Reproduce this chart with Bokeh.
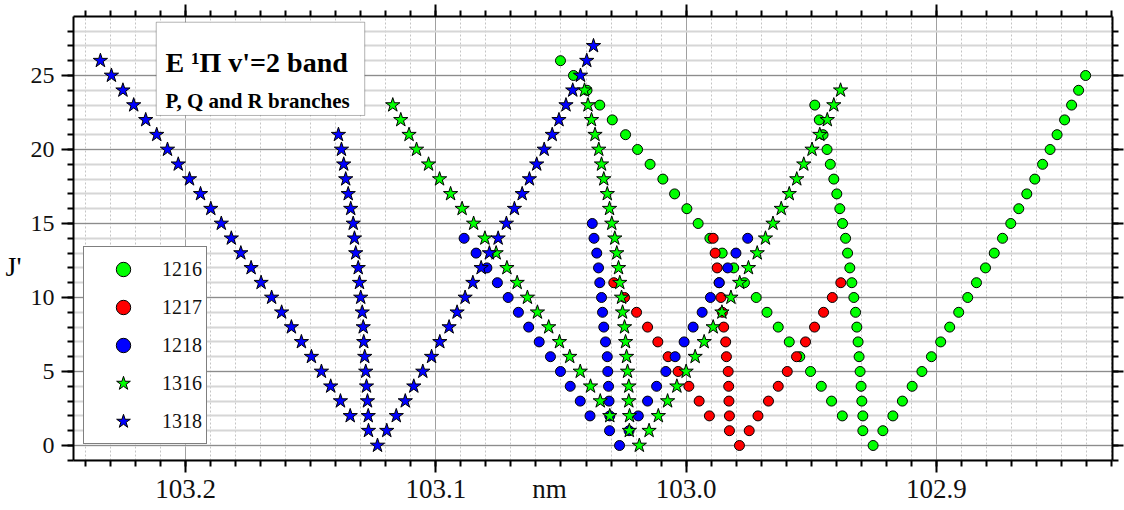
from bokeh.plotting import figure
from bokeh.models import (Range1d, LinearAxis, SingleIntervalTicker, FixedTicker,
                          CustomJSTickFormatter, ColumnDataSource, Legend, LegendItem, Label,
                          BoxAnnotation)
from bokeh.embed import file_html
from bokeh.resources import INLINE

# ---------------- data (wavelength in nm, upper rotational level J') ----------------
# 1216 (green circles)
s1216_P_J = [2, 3, 4, 5, 6, 7, 8, 9, 10, 11, 12, 13, 14, 15, 16, 17, 18, 19, 20, 21, 22, 23, 24, 25, 26]
s1216_P_nm = [102.9376, 102.9419, 102.9460, 102.9503, 102.9546, 102.9588, 102.9632, 102.9677, 102.9720,
              102.9767, 102.9810, 102.9856, 102.9905, 102.9952, 102.9997, 103.0046, 103.0093, 103.0144,
              103.0194, 103.0242, 103.0295, 103.0345, 103.0396, 103.0450, 103.0502]
s1216_Q_J = [1, 2, 3, 4, 5, 6, 7, 8, 9, 10, 11, 12, 13, 14, 15, 16, 17, 18, 19, 20, 21, 22, 23]
s1216_Q_nm = [102.9294, 102.9294, 102.9298, 102.9301, 102.9305, 102.9309, 102.9313, 102.9318, 102.9323,
              102.9330, 102.9338, 102.9346, 102.9355, 102.9363, 102.9375, 102.9386, 102.9398, 102.9410,
              102.9424, 102.9437, 102.9453, 102.9468, 102.9486]
s1216_R_J = [0, 1, 2, 3, 4, 5, 6, 7, 8, 9, 10, 11, 12, 13, 14, 15, 16, 17, 18, 19, 20, 21, 22, 23, 24, 25]
s1216_R_nm = [102.9253, 102.9214, 102.9174, 102.9136, 102.9097, 102.9058, 102.9020, 102.8983, 102.8947,
              102.8911, 102.8875, 102.8840, 102.8804, 102.8769, 102.8736, 102.8703, 102.8671, 102.8639,
              102.8607, 102.8576, 102.8546, 102.8518, 102.8488, 102.8460, 102.8432, 102.8404]

# 1217 (red circles)
s1217_P_J = [2, 3, 4, 5, 6, 7, 8, 9, 10, 11]
s1217_P_nm = [102.9907, 102.9948, 102.9989, 103.0032, 103.0072, 103.0113, 103.0154, 103.0198, 103.0246, 103.0289]
s1217_Q_J = [1, 2, 3, 4, 5, 6, 7, 8, 9, 10, 11, 12, 13, 14]
s1217_Q_nm = [102.9827, 102.9827, 102.9829, 102.9830, 102.9832, 102.9839, 102.9842, 102.9850, 102.9855,
              102.9861, 102.9868, 102.9876, 102.9884, 102.9892]
s1217_R_J = [0, 1, 2, 3, 4, 5, 6, 7, 8, 9, 10, 11]
s1217_R_nm = [102.9787, 102.9748, 102.9713, 102.9671, 102.9632, 102.9596, 102.9559, 102.9523, 102.9487,
              102.9451, 102.9416, 102.9382]

# 1218 (blue circles)
s1218_P_J = [2, 3, 4, 5, 6, 7, 8, 9, 10, 11, 12, 13, 14]
s1218_P_nm = [103.0384, 103.0423, 103.0463, 103.0502, 103.0542, 103.0587, 103.0629, 103.0670, 103.0711,
              103.0754, 103.0796, 103.0839, 103.0887]
s1218_Q_J = [1, 2, 3, 4, 5, 6, 7, 8, 9, 10, 11, 12, 13, 14, 15]
s1218_Q_nm = [103.0306, 103.0305, 103.0308, 103.0310, 103.0313, 103.0315, 103.0322, 103.0329, 103.0334,
              103.0338, 103.0345, 103.0350, 103.0357, 103.0368, 103.0375]
s1218_R_J = [0, 1, 2, 3, 4, 5, 6, 7, 8, 9, 10, 11, 12, 13, 14]
s1218_R_nm = [103.0266, 103.0228, 103.0191, 103.0154, 103.0118, 103.0081, 103.0044, 103.0008, 102.9972,
              102.9936, 102.9903, 102.9868, 102.9834, 102.9801, 102.9754]

# 1316 (green stars)
s1316_P_J = [2, 3, 4, 5, 6, 7, 8, 9, 10, 11, 12, 13, 14, 15, 16, 17, 18, 19, 20, 21, 22, 23]
s1316_P_nm = [103.0305, 103.0343, 103.0382, 103.0423, 103.0465, 103.0506, 103.0549, 103.0594, 103.0634,
              103.0675, 103.0716, 103.0759, 103.0804, 103.0849, 103.0895, 103.0941, 103.0985, 103.1029,
              103.1077, 103.1107, 103.1140, 103.1172]
s1316_Q_J = [1, 2, 3, 4, 5, 6, 7, 8, 9, 10, 11, 12, 13, 14, 15, 16, 17, 18, 19, 20, 21, 22, 23, 24]
s1316_Q_nm = [103.0227, 103.0226, 103.0229, 103.0229, 103.0234, 103.0238, 103.0242, 103.0246, 103.0254,
              103.0258, 103.0265, 103.0270, 103.0277, 103.0285, 103.0297, 103.0306, 103.0315, 103.0329,
              103.0338, 103.0349, 103.0364, 103.0378, 103.0392, 103.0406]
s1316_R_J = [0, 1, 2, 3, 4, 5, 6, 7, 8, 9, 10, 11, 12, 13, 14, 15, 16, 17, 18, 19, 20, 21, 22, 23, 24]
s1316_R_nm = [103.0187, 103.0148, 103.0111, 103.0074, 103.0037, 103.0000, 102.9964, 102.9928, 102.9892,
              102.9857, 102.9821, 102.9786, 102.9751, 102.9716, 102.9683, 102.9653, 102.9620, 102.9588,
              102.9558, 102.9530, 102.9497, 102.9466, 102.9436, 102.9410, 102.9383]

# 1318 (blue stars)
s1318_P_J = [2, 3, 4, 5, 6, 7, 8, 9, 10, 11, 12, 13, 14, 15, 16, 17, 18, 19, 20, 21, 22, 23, 24, 25, 26]
s1318_P_nm = [103.1342, 103.1381, 103.1420, 103.1457, 103.1497, 103.1537, 103.1577, 103.1616, 103.1656,
              103.1698, 103.1738, 103.1779, 103.1817, 103.1857, 103.1899, 103.1940, 103.1984, 103.2029,
              103.2072, 103.2115, 103.2159, 103.2207, 103.2250, 103.2296, 103.2340]
s1318_Q_J = [1, 2, 3, 4, 5, 6, 7, 8, 9, 10, 11, 12, 13, 14, 15, 16, 17, 18, 19, 20, 21]
s1318_Q_nm = [103.1269, 103.1270, 103.1273, 103.1277, 103.1280, 103.1284, 103.1288, 103.1290, 103.1294,
              103.1300, 103.1305, 103.1310, 103.1320, 103.1325, 103.1330, 103.1340, 103.1350, 103.1360,
              103.1368, 103.1377, 103.1389]
s1318_R_J = [0, 1, 2, 3, 4, 5, 6, 7, 8, 9, 10, 11, 12, 13, 14, 15, 16, 17, 18, 19, 20, 21, 22, 23, 24, 25, 26, 27]
s1318_R_nm = [103.1233, 103.1196, 103.1158, 103.1122, 103.1088, 103.1052, 103.1017, 103.0984, 103.0947,
              103.0915, 103.0883, 103.0852, 103.0819, 103.0786, 103.0751, 103.0718, 103.0686, 103.0655,
              103.0626, 103.0597, 103.0567, 103.0535, 103.0508, 103.0480, 103.0453, 103.0422, 103.0397,
              103.0370]

series_names = ["1216", "1217", "1218", "1316", "1318"]
series_markers = ["circle", "circle", "circle", "star", "star"]
series_colors = ["#00ff00", "#ff0000", "#0000ff", "#00ff00", "#0000ff"]
series_data = [
    (s1216_P_nm + s1216_Q_nm + s1216_R_nm, s1216_P_J + s1216_Q_J + s1216_R_J),
    (s1217_P_nm + s1217_Q_nm + s1217_R_nm, s1217_P_J + s1217_Q_J + s1217_R_J),
    (s1218_P_nm + s1218_Q_nm + s1218_R_nm, s1218_P_J + s1218_Q_J + s1218_R_J),
    (s1316_P_nm + s1316_Q_nm + s1316_R_nm, s1316_P_J + s1316_Q_J + s1316_R_J),
    (s1318_P_nm + s1318_Q_nm + s1318_R_nm, s1318_P_J + s1318_Q_J + s1318_R_J),
]

x_tick_values = [103.2, 103.1, 103.0, 102.9]
x_title = "nm"
y_title = "J'"

FONT = "Liberation Serif"

p = figure(width=1124, height=510, output_backend="svg", toolbar_location=None,
           x_range=Range1d(103.24475, 102.82966), y_range=Range1d(-1.0135, 28.986),
           min_border_left=73, min_border_right=12, min_border_top=16, min_border_bottom=50)
p.outline_line_color = None
p.background_fill_color = "white"

xt = SingleIntervalTicker(interval=0.1, num_minor_ticks=10)
yt = SingleIntervalTicker(interval=5, num_minor_ticks=5)

# grids
p.xgrid.ticker = xt
p.ygrid.ticker = yt
p.xgrid.grid_line_color = "#a0a0a0"
p.xgrid.grid_line_width = 1
p.xgrid.minor_grid_line_color = "#c4c4c4"
p.xgrid.minor_grid_line_dash = "2 2"
p.xgrid.minor_grid_line_width = 1
p.ygrid.grid_line_color = "#8c8c8c"
p.ygrid.grid_line_width = 1
p.ygrid.minor_grid_line_color = "#d6d6d6"
p.ygrid.minor_grid_line_width = 2


def style_axis(ax, tick_out, minor_out):
    ax.axis_line_color = "black"
    ax.axis_line_width = 2
    ax.major_tick_line_color = "black"
    ax.major_tick_line_width = 2
    ax.minor_tick_line_color = "black"
    ax.minor_tick_line_width = 2
    ax.major_tick_in = 0
    ax.minor_tick_in = 0
    ax.major_tick_out = tick_out
    ax.minor_tick_out = minor_out


blank = CustomJSTickFormatter(code="return ''")

# bottom: ticks only (labels come from a second axis just below)
xb = p.xaxis[0]
xb.ticker = xt
xb.formatter = blank
xb.major_label_text_font_size = "1px"
xb.major_label_standoff = 0
style_axis(xb, 12, 6)

# bottom labels (tick values + "nm" title on the same row)
nm_pos = 103.0546
xlab = LinearAxis(ticker=FixedTicker(ticks=x_tick_values + [nm_pos]),
                  formatter=CustomJSTickFormatter(args=dict(pos=nm_pos, title=x_title),
                                                  code="return Math.abs(tick - pos) < 1e-6 ? title : tick.toFixed(1)"),
                  axis_line_color=None, major_tick_line_color=None, minor_tick_line_color=None,
                  major_tick_in=0, major_tick_out=0, minor_tick_in=0, minor_tick_out=0,
                  major_label_standoff=1, major_label_text_font=FONT,
                  major_label_text_font_size="27px", major_label_text_color="#111111")
p.add_layout(xlab, "below")

yl = p.yaxis[0]
yl.ticker = yt
style_axis(yl, 12, 6)
yl.major_label_text_font = FONT
yl.major_label_text_font_size = "24px"
yl.major_label_text_color = "#111111"
yl.major_label_standoff = 7

# J' title as a label of a second, tickless left axis
j_pos = 12.1
ylab = LinearAxis(ticker=FixedTicker(ticks=[j_pos]),
                  formatter=CustomJSTickFormatter(args=dict(title=y_title), code="return title"),
                  axis_line_color=None, major_tick_line_color=None, minor_tick_line_color=None,
                  major_tick_in=0, major_tick_out=0, minor_tick_in=0, minor_tick_out=0,
                  major_label_standoff=6, major_label_text_font=FONT,
                  major_label_text_font_size="28px", major_label_text_color="black")
p.add_layout(ylab, "left")

xtop = LinearAxis(ticker=xt, formatter=blank, major_label_text_font_size="1px", major_label_standoff=0)
style_axis(xtop, 12, 6)
p.add_layout(xtop, "above")

yr = LinearAxis(ticker=yt, formatter=blank, major_label_text_font_size="1px", major_label_standoff=0)
style_axis(yr, 11, 6)
p.add_layout(yr, "right")

# data points
items = []
for name, mk, col, (xs, js) in zip(series_names, series_markers, series_colors, series_data):
    src = ColumnDataSource(dict(x=xs, y=js))
    size = 10 if mk == "circle" else 15
    r = p.scatter(x="x", y="y", source=src, marker=mk, size=size,
                  fill_color=col, line_color="black", line_width=1)
    items.append(LegendItem(label=name, renderers=[r]))

legend = Legend(items=items, location=(10, 16), padding=4, spacing=2,
                glyph_width=70, glyph_height=36, label_standoff=4,
                label_text_font=FONT, label_text_font_size="20px", label_text_color="#111111",
                border_line_color="black", border_line_width=1,
                background_fill_color="white", background_fill_alpha=1.0, margin=0)
p.add_layout(legend, "center")

# title box
box = BoxAnnotation(left=103.2117, right=103.1284, top=28.6, bottom=22.3,
                    fill_color="white", fill_alpha=1.0, line_color="black", line_width=1)
p.add_layout(box)
p.add_layout(Label(x=103.2080, y=25.88, text="E \u00b9\u03a0 v'=2 band", text_font=FONT,
                   text_font_style="bold", text_font_size="28px", text_color="black",
                   text_align="left", text_baseline="alphabetic"))
p.add_layout(Label(x=103.2080, y=23.26, text="P, Q and R branches", text_font=FONT,
                   text_font_style="bold", text_font_size="21px", text_color="black",
                   text_align="left", text_baseline="alphabetic"))

open("out.html", "w").write(file_html(p, INLINE))
